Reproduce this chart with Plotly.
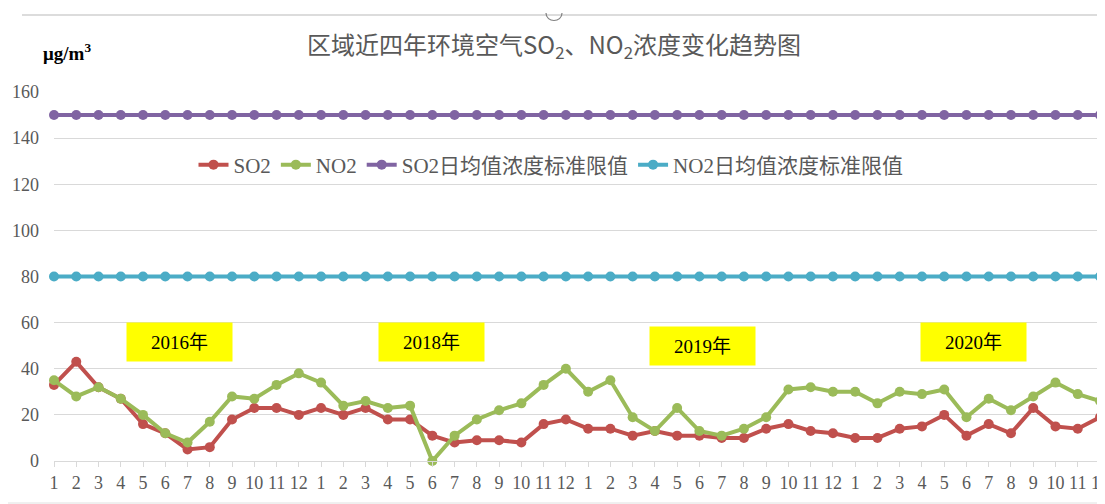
import plotly.graph_objects as go

months = [str(m) for m in range(1, 13)] * 4

so2 = [33, 43, 32, 27, 16, 12, 5, 6, 18, 23, 23, 20,
       23, 20, 23, 18, 18, 11, 8, 9, 9, 8, 16, 18,
       14, 14, 11, 13, 11, 11, 10, 10, 14, 16, 13, 12,
       10, 10, 14, 15, 20, 11, 16, 12, 23, 15, 14, 19]
no2 = [35, 28, 32, 27, 20, 12, 8, 17, 28, 27, 33, 38,
       34, 24, 26, 23, 24, 0, 11, 18, 22, 25, 33, 40,
       30, 35, 19, 13, 23, 13, 11, 14, 19, 31, 32, 30,
       30, 25, 30, 29, 31, 19, 27, 22, 28, 34, 29, 26]
so2_limit = [150] * 48
no2_limit = [80] * 48

year_labels = ["2016年", "2018年", "2019年", "2020年"]
year_x = [5.63, 16.94, 29.15, 41.3]
year_y = [51.6, 51.6, 49.9, 51.4]

x = list(range(len(months)))

serif = "Liberation Serif, Times New Roman, serif"
cjk = "Liberation Serif, Noto Sans CJK SC, serif"

# plot area in page pixels (page has 8px body margin)
PL, PR, PT, PB = 54, 1100, 92, 461


def px_x(p):
    return (p - PL) / (PR - PL)


def px_y(p):
    return (PB - p) / (PB - PT)


fig = go.Figure()
series = [
    ("SO2", so2, "#C0504D"),
    ("NO2", no2, "#9BBB59"),
    ("SO2日均值浓度标准限值", so2_limit, "#8064A2"),
    ("NO2日均值浓度标准限值", no2_limit, "#4BACC6"),
]
for name, vals, col in series:
    fig.add_trace(go.Scatter(
        x=x, y=vals, name=name, mode="lines+markers",
        line=dict(color=col, width=4),
        marker=dict(color=col, size=10),
        cliponaxis=False,
    ))

annotations = []
for lab, xx, yy in zip(year_labels, year_x, year_y):
    annotations.append(dict(
        x=xx, y=yy, xref="x", yref="y", text=lab, showarrow=False,
        bgcolor="#FFFF00", width=99, height=32, borderpad=3,
        font=dict(family=cjk, size=19, color="#000000"),
    ))

annotations.append(dict(
    text="区域近四年环境空气SO<sub>2</sub>、NO<sub>2</sub>浓度变化趋势图",
    x=px_x(554), y=px_y(45), xref="paper", yref="paper",
    xanchor="center", yanchor="middle", showarrow=False,
    font=dict(family="Noto Sans CJK SC, sans-serif", size=24, color="#595959"),
))
annotations.append(dict(
    text="<b>μg/m<sup>3</sup></b>",
    x=px_x(41), y=px_y(52), xref="paper", yref="paper",
    xanchor="left", yanchor="middle", showarrow=False,
    font=dict(family=serif, size=19, color="#000000"),
))

fig.update_layout(
    width=1097, height=496,
    margin=dict(l=PL - 8, r=1105 - PR, t=PT - 8, b=504 - PB),
    paper_bgcolor="white", plot_bgcolor="white",
    showlegend=True,
    legend=dict(orientation="h", x=px_x(551), y=px_y(165), xanchor="center", yanchor="middle",
                font=dict(family=cjk, size=21, color="#595959"),
                bgcolor="rgba(255,255,255,0)", tracegroupgap=0),
    annotations=annotations,
    xaxis=dict(
        range=[0, 47], tickmode="array", tickvals=x, ticktext=months,
        showgrid=False, zeroline=False, showline=True, linecolor="#D9D9D9", linewidth=1,
        ticks="outside", ticklen=5, tickcolor="#D9D9D9",
        tickfont=dict(family=serif, size=18, color="#595959"),
        ticklabeloverflow="allow", automargin=False,
        fixedrange=True,
    ),
    yaxis=dict(
        range=[0, 160], dtick=20, showgrid=True, gridcolor="#D9D9D9", gridwidth=1,
        zeroline=False, showline=False, ticks="",
        tickfont=dict(family=serif, size=18, color="#595959"),
        ticklabelstandoff=14, automargin=False,
        fixedrange=True,
    ),
    shapes=[
        dict(type="line", xref="paper", yref="paper", x0=px_x(22), x1=px_x(1100),
             y0=px_y(15), y1=px_y(15),
             line=dict(color="#D0D0D0", width=1.5)),
        dict(type="path", xref="paper", yref="paper",
             path=(f"M {px_x(546)},{px_y(13)} C {px_x(546)},{px_y(23)} "
                   f"{px_x(562)},{px_y(23)} {px_x(562)},{px_y(13)}"),
             line=dict(color="#808080", width=1.2)),
        dict(type="line", xref="paper", yref="paper", x0=px_x(8), x1=px_x(1105),
             y0=px_y(503), y1=px_y(503),
             line=dict(color="#E0E0E0", width=1)),
    ],
)

fig.write_html("out.html")
